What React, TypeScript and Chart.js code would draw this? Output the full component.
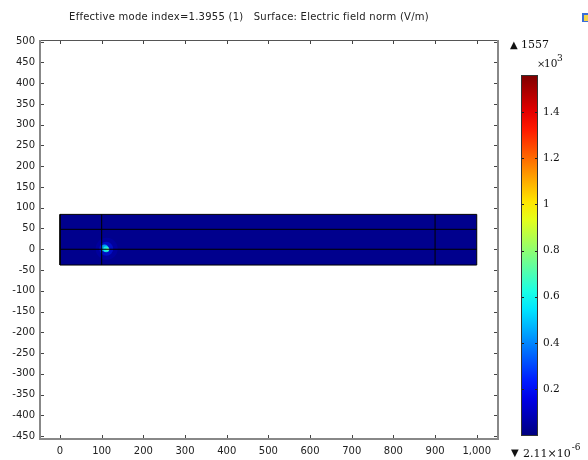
import React, { useEffect, useRef } from "react";
import { Chart, registerables } from "chart.js";

Chart.register(...registerables);

// ---- data ----
const titleText = "Effective mode index=1.3955 (1)   Surface: Electric field norm (V/m)";
const xTicks = [0, 100, 200, 300, 400, 500, 600, 700, 800, 900, 1000];
const yTicks = [-450, -400, -350, -300, -250, -200, -150, -100, -50, 0, 50, 100, 150, 200, 250, 300, 350, 400, 450, 500];
const xRange = [-48, 1051];
const yRange = [-457, 504];
const domainX = [0, 1000];
const domainY = [-38, 84];
const boundaryX = [100, 900];
const boundaryY = [0, 48];
const backgroundField = 0.02; // x10^3 V/m
const spotX = [112, 111, 107, 111, 114];
const spotY = [1, 1, 3, 0, 0];
const spotField = [0.12, 0.25, 0.5, 0.62, 0.75]; // x10^3 V/m
const colorbarTicks = [0.2, 0.4, 0.6, 0.8, 1, 1.2, 1.4];
const fieldMax = 1.557; // x10^3 V/m
const maxLabel = "1557";
const minLabel = "2.11\u00d710";
const minExp = "-6";
const scaleExp = "3";

// ---- styles ----
const spotRadius = [11, 7, 3.5, 3, 1.5];
const spotAlpha = [0.25, 0.4, 0.75, 0.8, 0.9];
const FONT = "'DejaVu Sans', sans-serif";
const SERIF = "'DejaVu Serif', serif";

const clamp = (v: number) => Math.max(0, Math.min(1, v));
function jet(t: number, a = 1) {
  const r = clamp(1.5 - Math.abs(4 * t - 3));
  const g = clamp(1.5 - Math.abs(4 * t - 2));
  const b = clamp(1.5 - Math.abs(4 * t - 1));
  return `rgba(${Math.round(r * 255)},${Math.round(g * 255)},${Math.round(b * 255)},${a})`;
}

const framePlugin = {
  id: "frame",
  afterDraw(chart: any) {
    const { ctx, chartArea } = chart;
    const { left, right, top, bottom } = chartArea;
    const xs = chart.scales.x;
    const ys = chart.scales.y;
    ctx.save();
    ctx.strokeStyle = "#444";
    ctx.lineWidth = 1;
    ctx.beginPath();
    xTicks.forEach((v) => {
      const px = Math.round(xs.getPixelForValue(v)) + 0.5;
      ctx.moveTo(px, bottom);
      ctx.lineTo(px, bottom - 4);
      ctx.moveTo(px, top);
      ctx.lineTo(px, top + 4);
    });
    yTicks.forEach((v) => {
      const py = Math.round(ys.getPixelForValue(v)) + 0.5;
      ctx.moveTo(left, py);
      ctx.lineTo(left + 4, py);
      ctx.moveTo(right, py);
      ctx.lineTo(right - 4, py);
    });
    ctx.stroke();
    ctx.strokeStyle = "#555";
    ctx.lineWidth = 1;
    ctx.strokeRect(Math.round(left) + 0.5, Math.round(top) + 0.5, Math.round(right - left), Math.round(bottom - top));
    ctx.strokeStyle = "#888";
    ctx.lineWidth = 2;
    ctx.beginPath();
    ctx.moveTo(left, top);
    ctx.lineTo(left, bottom);
    ctx.lineTo(right, bottom);
    ctx.lineTo(right, top);
    ctx.stroke();
    ctx.fillStyle = "#222";
    ctx.font = `10px ${FONT}`;
    (ctx as any).letterSpacing = "0.25px";
    ctx.textAlign = "center";
    ctx.textBaseline = "middle";
    ctx.fillText(titleText, 249, 17);
    (ctx as any).letterSpacing = "0px";
    ctx.fillStyle = "#3a6fd8";
    ctx.fillRect(582, 13, 6, 9);
    ctx.fillStyle = "#f2d44a";
    ctx.fillRect(584, 15, 4, 6);
    ctx.restore();
  },
};

const colorbarPlugin = {
  id: "cbar",
  afterDraw(chart: any) {
    const { ctx, chartArea } = chart;
    const { left, right, top, bottom } = chartArea;
    const ys = chart.scales.y;
    ctx.save();
    ctx.strokeStyle = "#333";
    ctx.lineWidth = 1;
    ctx.strokeRect(Math.round(left) - 0.5, Math.round(top) - 0.5, Math.round(right - left) + 1, Math.round(bottom - top) + 1);
    ctx.strokeStyle = "#222";
    ctx.beginPath();
    colorbarTicks.forEach((v) => {
      const py = Math.round(ys.getPixelForValue(v)) + 0.5;
      ctx.moveTo(left, py);
      ctx.lineTo(left + 2, py);
      ctx.moveTo(right, py);
      ctx.lineTo(right - 2, py);
    });
    ctx.stroke();
    ctx.fillStyle = "#111";
    ctx.textBaseline = "middle";
    ctx.textAlign = "left";
    ctx.font = `10px ${FONT}`;
    ctx.fillText("\u25b2", 10, 45);
    ctx.font = `11px ${SERIF}`;
    ctx.fillText(maxLabel, 21, 45);
    ctx.font = `10px ${SERIF}`;
    ctx.fillText("\u00d7", 37, 64);
    ctx.font = `10.5px ${SERIF}`;
    ctx.fillText("10", 44, 64);
    ctx.font = `9px ${SERIF}`;
    ctx.fillText(scaleExp, 57, 59);
    ctx.font = `10px ${FONT}`;
    ctx.fillText("\u25bc", 11, 453);
    ctx.font = `11px ${SERIF}`;
    ctx.fillText(minLabel, 23, 454);
    const w = ctx.measureText(minLabel).width;
    ctx.font = `9px ${SERIF}`;
    ctx.fillText(minExp, 23 + w + 1, 448);
    ctx.restore();
  },
};

export default function App() {
  const mainRef = useRef<HTMLCanvasElement>(null);
  const cbRef = useRef<HTMLCanvasElement>(null);

  useEffect(() => {
    const corners = [
      { x: domainX[0], y: domainY[0] },
      { x: domainX[1], y: domainY[0] },
      { x: domainX[1], y: domainY[1] },
      { x: domainX[0], y: domainY[1] },
      { x: domainX[0], y: domainY[0] },
    ];
    const lineDs = (pts: { x: number; y: number }[]) => ({
      data: pts,
      showLine: true,
      borderColor: "#000",
      borderWidth: 1,
      pointRadius: 0,
      fill: false,
      order: 1,
    });
    const datasets: any[] = [
      {
        data: corners,
        showLine: true,
        fill: "shape",
        backgroundColor: jet(backgroundField / fieldMax),
        borderColor: "#000",
        borderWidth: 1,
        pointRadius: 0,
        order: 3,
      },
      {
        data: spotX.map((x, i) => ({ x, y: spotY[i] })),
        backgroundColor: spotField.map((f, i) => jet(f / fieldMax, spotAlpha[i])),
        borderWidth: 0,
        pointRadius: spotRadius,
        order: 2,
      },
      ...boundaryY.map((y) => lineDs([{ x: domainX[0], y }, { x: domainX[1], y }])),
      ...boundaryX.map((x) => lineDs([{ x, y: domainY[0] }, { x, y: domainY[1] }])),
    ];

    const main = new Chart(mainRef.current!, {
      type: "scatter",
      data: { datasets },
      options: {
        animation: false,
        responsive: false,
        layout: { padding: { left: 0, top: 40, right: 90, bottom: 0 } },
        plugins: { legend: { display: false }, tooltip: { enabled: false }, title: { display: false } },
        scales: {
          x: {
            type: "linear",
            min: xRange[0],
            max: xRange[1],
            grid: { display: false, drawTicks: false },
            border: { display: false },
            afterBuildTicks: (s: any) => {
              s.ticks = xTicks.map((v) => ({ value: v }));
            },
            afterFit: (s: any) => {
              s.height = 21;
            },
            ticks: { font: { family: FONT, size: 10 }, color: "#222", padding: 6, maxRotation: 0, autoSkip: false },
          },
          y: {
            type: "linear",
            min: yRange[0],
            max: yRange[1],
            grid: { display: false, drawTicks: false },
            border: { display: false },
            afterBuildTicks: (s: any) => {
              s.ticks = yTicks.map((v) => ({ value: v }));
            },
            afterFit: (s: any) => {
              s.width = 40;
            },
            ticks: { font: { family: FONT, size: 10 }, color: "#222", padding: 5, autoSkip: false },
          },
        },
      },
      plugins: [framePlugin],
    } as any);

    const cb = new Chart(cbRef.current!, {
      type: "bar",
      data: {
        labels: ["E"],
        datasets: [
          {
            data: [fieldMax],
            barPercentage: 1,
            categoryPercentage: 1,
            borderWidth: 0,
            backgroundColor: (c: any) => {
              const area = c.chart.chartArea;
              if (!area) return jet(0.5);
              const g = c.chart.ctx.createLinearGradient(0, area.bottom, 0, area.top);
              for (let i = 0; i <= 20; i++) g.addColorStop(i / 20, jet(i / 20));
              return g;
            },
          },
        ],
      },
      options: {
        animation: false,
        responsive: false,
        layout: { padding: { left: 22, top: 76, right: 11, bottom: 25 } },
        plugins: { legend: { display: false }, tooltip: { enabled: false } },
        scales: {
          x: { display: false },
          y: {
            position: "right",
            min: 0,
            max: fieldMax,
            grid: { display: false, drawTicks: false },
            border: { display: false },
            afterBuildTicks: (s: any) => {
              s.ticks = colorbarTicks.map((v) => ({ value: v }));
            },
            afterFit: (s: any) => {
              s.width = 40;
            },
            ticks: {
              font: { family: SERIF, size: 10.5 },
              color: "#111",
              padding: 6,
              callback: (v: any) => String(Number(v)),
            },
          },
        },
      },
      plugins: [colorbarPlugin],
    } as any);

    return () => {
      main.destroy();
      cb.destroy();
    };
  }, []);

  return (
    <div style={{ position: "fixed", left: 0, top: 0, width: 588, height: 460, background: "#fff" }}>
      <canvas ref={mainRef} width={588} height={460} style={{ position: "absolute", left: 0, top: 0 }} />
      <canvas ref={cbRef} width={88} height={460} style={{ position: "absolute", left: 500, top: 0 }} />
    </div>
  );
}
